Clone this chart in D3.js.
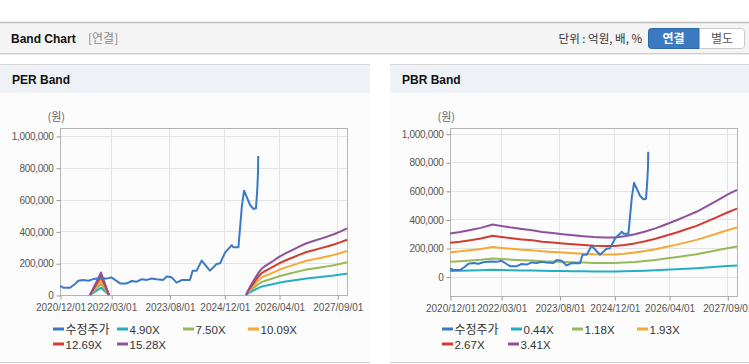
<!DOCTYPE html>
<html><head><meta charset="utf-8">
<script src="https://cdn.jsdelivr.net/npm/d3@7/dist/d3.min.js"></script>
<style>
html,body{margin:0;padding:0;background:#fff;}
svg{display:block;font-family:"Liberation Sans",Arial,"Noto Sans CJK KR",sans-serif;}
</style></head>
<body><svg id="c" width="749" height="364"></svg>
<script>
// ---------------- data ----------------
const priceDates = ["2020-12-01","2020-12-30","2021-02-28","2021-04-13","2021-05-13","2021-06-26","2021-08-10","2021-09-23","2021-11-22","2022-01-20","2022-03-02","2022-04-04","2022-05-19","2022-07-17","2022-08-31","2022-10-14","2022-11-27","2023-01-11","2023-02-24","2023-04-10","2023-06-07","2023-07-07","2023-08-20","2023-10-04","2023-11-17","2024-01-30","2024-02-23","2024-03-30","2024-05-13","2024-07-26","2024-09-23","2024-10-24","2024-12-07","2025-02-05","2025-02-19","2025-04-05","2025-05-05","2025-05-25","2025-07-17","2025-08-16","2025-09-08","2025-09-19","2025-09-26","2025-09-28"];
const priceValues = [57000,46000,46000,69000,90000,95000,90000,100000,105000,103000,111000,95000,73000,73000,88000,84000,99000,95000,104000,99000,95000,116000,111000,78000,94000,94000,153000,153000,216000,153000,195000,199000,266000,314000,300000,300000,555000,656000,566000,541000,545000,660000,767000,874000];

// PER band (EPS-based), null = gap
const perDates = ["2021-08-25","2021-11-30","2022-02-10","2022-03-01","2025-06-12","2025-07-01","2025-08-01","2025-09-01","2025-10-01","2025-11-01","2025-12-01","2026-02-01","2026-04-01","2026-06-01","2026-08-01","2026-10-01","2026-12-01","2027-02-01","2027-04-01","2027-06-01","2027-08-01","2027-10-01","2027-11-26"];
const per490  = [0,45100,0,null,0,9800,22500,34300,45100,53900,58800,67600,76900,84300,91100,98000,104400,108800,113200,117600,122500,128400,134300];
const per750  = [0,69000,0,null,0,15000,34500,52500,69000,82500,90000,103500,117800,129000,139500,150000,159800,166500,173300,180000,187500,196500,205500];
const per1009 = [0,92800,0,null,0,20200,46400,70600,92800,111000,121100,139200,158400,173500,187700,201800,214900,224000,233100,242200,252300,264400,276500];
const per1269 = [0,116700,0,null,0,25400,58400,88800,116700,139600,152300,175100,199200,218300,236000,253800,270300,281700,293100,304600,317300,332500,347700];
const per1528 = [0,140600,0,null,0,30600,70300,107000,140600,168100,183400,210900,239900,262800,284200,305600,325500,339200,353000,366700,382000,400300,418700];
const perLabels = ["4.90X","7.50X","10.09X","12.69X","15.28X"];

// PBR band (BPS-based)
const pbrDates = ["2020-12-01","2021-03-01","2021-06-01","2021-09-01","2021-12-15","2022-03-01","2022-06-01","2022-09-01","2022-12-01","2023-03-01","2023-06-01","2023-09-01","2023-12-01","2024-03-01","2024-06-01","2024-09-01","2024-12-01","2025-03-01","2025-06-01","2025-09-01","2025-12-01","2026-03-01","2026-06-01","2026-09-01","2026-12-01","2027-03-01","2027-06-01","2027-09-01","2027-11-26"];
const pbr044 = [38900,40300,42000,44000,47100,45800,44200,42900,41800,40300,39400,38300,37400,36500,35600,35200,35200,36500,38300,40700,43600,47100,50600,54600,58500,63400,68600,73900,78300];
const pbr118 = [104400,108000,112700,118000,126300,122700,118600,115000,112100,108000,105600,102700,100300,97900,95600,94400,94400,97900,102700,109200,116800,126300,135700,146300,156900,169900,184100,198200,210000];
const pbr193 = [170800,176600,184300,193000,206500,200700,194000,188200,183400,176600,172700,167900,164100,160200,156300,154400,154400,160200,167900,178500,191100,206500,222000,239300,256700,277900,301100,324200,343500];
const pbr267 = [236300,244300,255000,267000,285700,277700,268300,260300,253700,244300,239000,232300,227000,221600,216300,213600,213600,221600,232300,247000,264300,285700,307100,331100,355100,384500,416500,448600,475300];
const pbr341 = [301800,312000,325700,341000,364900,354600,342700,332500,324000,312000,305200,296700,289900,283000,276200,272800,272800,283000,296700,315400,337600,364900,392200,422800,453500,491000,532000,572900,607000];
const pbrLabels = ["0.44X","1.18X","1.93X","2.67X","3.41X"];

const priceLabel = "수정주가";
const xTickDates = ["2020-12-01","2022-03-01","2023-08-01","2024-12-01","2026-04-01","2027-09-01"];
const yTicks = [0,200000,400000,600000,800000,1000000];
const xDomain = ["2020-12-01","2027-11-26"];

const colors = {price:"#3a79c6", b1:"#22afc6", b2:"#97b95a", b3:"#f5a833", b4:"#d23b30", b5:"#8f509d"};
const bandColors = [colors.b1,colors.b2,colors.b3,colors.b4,colors.b5];

// ---------------- drawing ----------------
const parse = d3.timeParse("%Y-%m-%d");
const fmtDate = d3.timeFormat("%Y/%m/%d");
const svg = d3.select("#c");

// top header
svg.append("rect").attr("x",0).attr("y",22).attr("width",749).attr("height",32).attr("fill","#f4f4f4");
svg.append("line").attr("x1",0).attr("x2",749).attr("y1",22.5).attr("y2",22.5).attr("stroke","#bdbdbd").attr("stroke-width",1.5);
svg.append("line").attr("x1",0).attr("x2",749).attr("y1",53.5).attr("y2",53.5).attr("stroke","#cfcfcf");
svg.append("line").attr("x1",0).attr("x2",749).attr("y1",54.5).attr("y2",54.5).attr("stroke","#ececec");
svg.append("text").attr("x",11).attr("y",43).attr("font-size",12).attr("font-weight","bold").attr("fill","#111").text("Band Chart");
svg.append("text").attr("x",88).attr("y",43).attr("font-size",12).attr("fill","#8a8a8a").attr("font-family","Noto Sans CJK KR").text("[연결]");
svg.append("text").attr("x",642).attr("y",43).attr("text-anchor","end").attr("font-size",11.5).attr("fill","#333").attr("font-family","Noto Sans CJK KR").text("단위 : 억원, 배, %");
svg.append("rect").attr("x",648.5).attr("y",28.5).attr("width",96).attr("height",20).attr("rx",3).attr("fill","#fff").attr("stroke","#c9c9c9");
svg.append("path").attr("d","M651.5,28.5 H699 V48.5 H651.5 A3,3 0 0 1 648.5,45.5 V31.5 A3,3 0 0 1 651.5,28.5 Z").attr("fill","#3b79c0").attr("stroke","#2f68a8");
svg.append("text").attr("x",673.5).attr("y",43).attr("text-anchor","middle").attr("font-size",12).attr("font-weight","bold").attr("fill","#fff").attr("font-family","Noto Sans CJK KR").text("연결");
svg.append("text").attr("x",722).attr("y",43).attr("text-anchor","middle").attr("font-size",12).attr("fill","#555").attr("font-family","Noto Sans CJK KR").text("별도");

function panel(px, pw, title){
  svg.append("rect").attr("x",px).attr("y",64).attr("width",pw).attr("height",298).attr("fill","#fcfcfc");
  svg.append("rect").attr("x",px).attr("y",64).attr("width",pw).attr("height",29).attr("fill","#eef2f7");
  svg.append("line").attr("x1",px).attr("x2",px+pw).attr("y1",64.5).attr("y2",64.5).attr("stroke","#d6d6d6");
  svg.append("line").attr("x1",px).attr("x2",px+pw).attr("y1",362.5).attr("y2",362.5).attr("stroke","#cfcfcf");
  svg.append("text").attr("x",px+12).attr("y",84).attr("font-size",12).attr("font-weight","bold").attr("fill","#111").text(title);
}
panel(0,370,"PER Band");
panel(390,359,"PBR Band");

function chart(cfg){
  const x = d3.scaleTime().domain(xDomain.map(parse)).range([cfg.x0,cfg.x1]);
  const y = d3.scaleLinear().domain(cfg.yDomain).range([cfg.yb,cfg.yt]);
  const g = svg.append("g");
  // grid
  g.selectAll(".hg").data(yTicks).join("line")
    .attr("x1",cfg.x0).attr("x2",cfg.x1).attr("y1",d=>Math.round(y(d))+0.5).attr("y2",d=>Math.round(y(d))+0.5)
    .attr("stroke","#e4e4e4");
  g.selectAll(".vg").data(xTickDates.map(parse)).join("line")
    .attr("x1",d=>Math.round(x(d))+0.5).attr("x2",d=>Math.round(x(d))+0.5).attr("y1",cfg.yt).attr("y2",cfg.yb)
    .attr("stroke","#e4e4e4");
  // border
  g.append("rect").attr("x",cfg.x0+0.5).attr("y",cfg.yt+0.5).attr("width",cfg.x1-cfg.x0).attr("height",cfg.yb-cfg.yt)
    .attr("fill","none").attr("stroke","#b4b4b4");
  // axes
  const ya = d3.axisLeft(y).tickValues(yTicks).tickSize(4).tickPadding(3).tickFormat(d3.format(","));
  const yg = g.append("g").attr("transform",`translate(${cfg.x0+0.5},0.5)`).call(ya);
  yg.select(".domain").remove();
  yg.selectAll("line").attr("stroke","#999");
  yg.selectAll("text").attr("font-size",10).attr("fill","#555").attr("letter-spacing","-0.3").attr("font-family","Liberation Sans, Arial");
  const xa = d3.axisBottom(x).tickValues(xTickDates.map(parse)).tickSize(4).tickPadding(4).tickFormat(fmtDate);
  const xg = g.append("g").attr("transform",`translate(0.5,${cfg.yb+0.5})`).call(xa);
  xg.select(".domain").remove();
  xg.selectAll("line").attr("stroke","#999");
  xg.selectAll("text").attr("font-size",10).attr("fill","#555").attr("font-family","Liberation Sans, Arial");
  g.append("text").attr("x",cfg.x0+5).attr("y",cfg.yt-7).attr("text-anchor","end").attr("font-size",11).attr("fill","#666").attr("font-family","Noto Sans CJK KR").text("(원)");

  const line = d3.line().defined(d=>d[1]!=null).x(d=>x(d[0])).y(d=>y(d[1]));
  const clipId = "clip"+cfg.x0;
  svg.append("clipPath").attr("id",clipId).append("rect").attr("x",cfg.x0).attr("y",cfg.yt).attr("width",cfg.x1-cfg.x0+1).attr("height",cfg.yb-cfg.yt+1);
  const lg = g.append("g").attr("clip-path",`url(#${clipId})`);
  cfg.bands.forEach((vals,i)=>{
    const pts = cfg.bandDates.map((d,j)=>[parse(d),vals[j]]);
    lg.append("path").attr("d",line(pts)).attr("fill","none").attr("stroke",bandColors[i]).attr("stroke-width",2).attr("stroke-linejoin","round");
  });
  const pp = priceDates.map((d,j)=>[parse(d),priceValues[j]]);
  lg.append("path").attr("d",line(pp)).attr("fill","none").attr("stroke",colors.price).attr("stroke-width",2).attr("stroke-linejoin","round");

  // legend
  const items = [{t:priceLabel,c:colors.price}].concat(cfg.labels.map((t,i)=>({t,c:bandColors[i]})));
  items.forEach((it,i)=>{
    const lx = cfg.legendX[i], ly = i<4 ? 329 : 344;
    svg.append("line").attr("x1",lx).attr("x2",lx+11).attr("y1",ly).attr("y2",ly).attr("stroke",it.c).attr("stroke-width",3);
    svg.append("text").attr("x",lx+12.5).attr("y",ly+4.5).attr("font-size",i===0?12:11.5).attr("fill","#333")
      .attr("font-family",i===0?"Noto Sans CJK KR":"Liberation Sans, Arial").text(it.t);
  });
}

chart({x0:60,x1:347,yt:128,yb:295,yDomain:[0,1050000],bands:[per490,per750,per1009,per1269,per1528],bandDates:perDates,labels:perLabels,
  legendX:[53,117,183,248,53,117]});
chart({x0:450,x1:737,yt:128,yb:296,yDomain:[-136000,1040000],bands:[pbr044,pbr118,pbr193,pbr267,pbr341],bandDates:pbrDates,labels:pbrLabels,
  legendX:[442,511,572,637,442,508]});
</script></body></html>
